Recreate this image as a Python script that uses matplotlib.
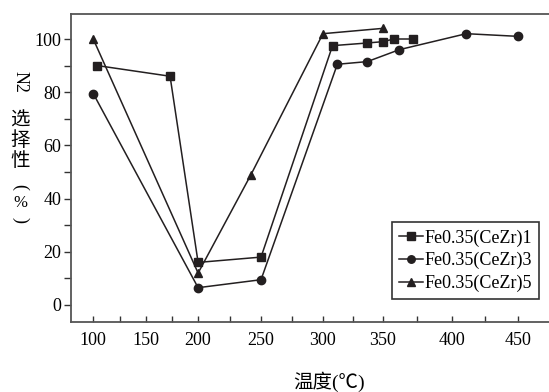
import numpy as np
import matplotlib
matplotlib.use('Agg')
import matplotlib.pyplot as plt
from matplotlib.ticker import FixedLocator

plt.rcParams['font.family'] = ['Liberation Serif', 'Noto Sans CJK SC', 'DejaVu Sans']

# data
x1 = [104, 173, 200, 250, 308, 337, 350, 358, 372]
y1 = [90, 86, 16, 18, 97.5, 98.5, 99, 100, 100]
x3 = [100, 200, 250, 312, 337, 362, 411, 450]
y3 = [79.5, 6.5, 9.5, 90.5, 91.5, 96, 102, 101]
x5 = [100, 200, 242, 300, 350]
y5 = [100, 12, 49, 102, 104]
labels = ['Fe0.35(CeZr)1', 'Fe0.35(CeZr)3', 'Fe0.35(CeZr)5']
xticks = [100, 150, 200, 250, 300, 350, 400, 450]
xminor = [125, 175, 225, 275, 325, 375, 425]
yticks = [0, 20, 40, 60, 80, 100]
yminor = [10, 30, 50, 70, 90]

# the printed x axis is not evenly spaced, so map it piecewise
cal_v = [0, 100, 150, 200, 250, 300, 350, 400, 450, 600]
cal_p = [-13, 93, 146, 198, 261, 323, 383, 452, 518, 716]

def fwd(v):
    return np.interp(v, cal_v, cal_p)

def inv(p):
    return np.interp(p, cal_p, cal_v)

W, H = 549, 392
fig = plt.figure(figsize=(W / 100, H / 100), dpi=100)
ax = fig.add_axes([71 / W, 1 - 322 / H, (552 - 71) / W, (322 - 14) / H])
ax.set_xscale('function', functions=(fwd, inv))

ink = '#231f20'
ax.plot(x1, y1, '-s', color=ink, lw=1.1, ms=6, label=labels[0])
ax.plot(x3, y3, '-o', color=ink, lw=1.1, ms=6, label=labels[1])
ax.plot(x5, y5, '-^', color=ink, lw=1.1, ms=6, label=labels[2])

ax.set_xlim(79, 476)
ax.set_ylim(-6.4, 109.4)

ax.xaxis.set_major_locator(FixedLocator(xticks))
ax.xaxis.set_minor_locator(FixedLocator(xminor))
ax.set_xticklabels([str(v) for v in xticks])
ax.yaxis.set_major_locator(FixedLocator(yticks))
ax.yaxis.set_minor_locator(FixedLocator(yminor))
ax.set_yticklabels([str(v) for v in yticks])

ax.tick_params(axis='x', which='both', direction='in', length=4, width=1,
               color='#333333', labelsize=13, pad=7, top=False)
ax.tick_params(axis='y', which='both', direction='out', length=5, width=1,
               color='#333333', labelsize=13, pad=2, right=False)

for side in ['left', 'bottom', 'top']:
    ax.spines[side].set_color('#555555')
    ax.spines[side].set_linewidth(1.3)
ax.spines['right'].set_visible(False)

leg = ax.legend(loc='upper left', bbox_to_anchor=(392 / W, 1 - 222 / H),
                bbox_transform=fig.transFigure, fontsize=13, frameon=True,
                fancybox=False, edgecolor='#333333', framealpha=1,
                handlelength=1.3, handletextpad=0.1, labelspacing=0.3,
                borderpad=0.4, borderaxespad=0, markerscale=0.9)
leg.get_frame().set_linewidth(1.2)

# vertical y label, written the Chinese way
fig.text(20 / W, 1 - 82 / H, 'N2', rotation=-90, ha='center', va='center', fontsize=13)
fig.text(20 / W, 1 - 140 / H, '选\n择\n性', ha='center', va='center',
         fontsize=14, linespacing=0.95, family=['Noto Sans CJK SC'])
fig.text(20 / W, 1 - 187 / H, '(', rotation=-90, ha='center', va='center', fontsize=13)
fig.text(20 / W, 1 - 203 / H, '%', ha='center', va='center', fontsize=12)
fig.text(20 / W, 1 - 220 / H, ')', rotation=-90, ha='center', va='center', fontsize=13)

fig.text(329 / W, 1 - 382 / H, '温度(℃)', ha='center', va='center', fontsize=14)

fig.savefig('out.png', dpi=100)
